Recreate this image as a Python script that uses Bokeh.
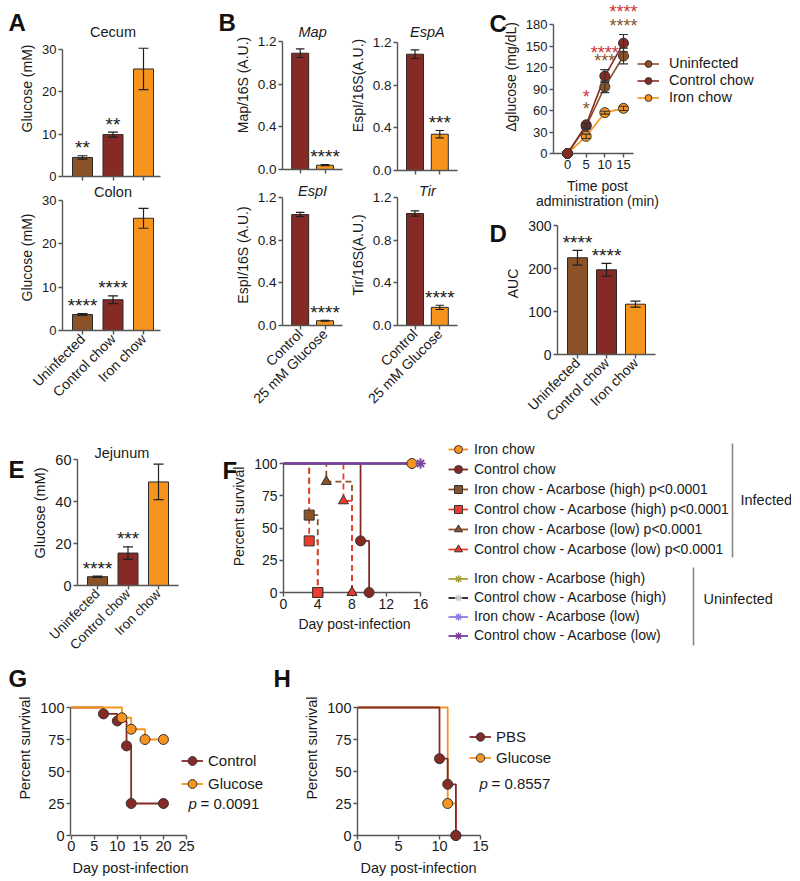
import math
from bokeh.plotting import figure
from bokeh.layouts import row, column
from bokeh.models import (Range1d, FixedTicker, Whisker, TeeHead, ColumnDataSource,
                          Legend, LegendItem, PrintfTickFormatter)
from bokeh.core.properties import value
from bokeh.embed import file_html
from bokeh.resources import INLINE

FONT = "Liberation Sans"
BROWN = "#8B5228"
DRED = "#862A25"
ORANGE = "#F7941D"
RED = "#EE3B2C"
STAR_RED = "#D0333A"
AX = "#555555"
TXT = "#1a1a1a"
NAN = float("nan")

# ---------------- data ----------------
groups = ["Uninfected", "Control chow", "Iron chow"]
group_colors = [BROWN, DRED, ORANGE]

cecum_glucose = [4.5, 9.9, 25.4]
cecum_err = [0.4, 0.6, 4.9]
cecum_stars = ["**", "**", ""]
colon_glucose = [3.7, 7.1, 25.9]
colon_err = [0.2, 0.9, 2.3]
colon_stars = ["****", "****", ""]

b_conditions = ["Control", "25 mM Glucose"]
b_colors = [DRED, ORANGE]
map_expr = [1.09, 0.04]
map_err = [0.04, 0.005]
map_stars = ["", "****"]
espa_expr = [1.09, 0.34]
espa_err = [0.04, 0.035]
espa_stars = ["", "***"]
espi_expr = [1.04, 0.045]
espi_err = [0.02, 0.004]
espi_stars = ["", "****"]
tir_expr = [1.05, 0.17]
tir_err = [0.025, 0.02]
tir_stars = ["", "****"]

c_time = [0, 5, 10, 15]
c_uninfected = [0, 38, 93, 136]
c_uninfected_err = [0, 3, 8, 11]
c_control = [0, 40, 108, 154]
c_control_err = [0, 3, 9, 12]
c_iron = [0, 24, 57, 63]
c_iron_err = [0, 3, 2, 3]
c_stars_control = ["", "*", "****", "****"]
c_stars_uninfected = ["", "*", "***", "****"]
c_star_pos_control = [0, 84, 146, 203]
c_star_pos_uninfected = [0, 68, 134, 183]

auc = [225, 197, 117]
auc_err = [17, 15, 7]
auc_stars = ["****", "****", ""]

jejunum_glucose = [4.2, 15.5, 49.5]
jejunum_err = [0.3, 3.0, 8.5]
jejunum_stars = ["****", "***", ""]

f_iron_days = [0, 15]
f_iron_surv = [100, 100]
f_control_days = [0, 9, 10]
f_control_surv = [100, 40, 0]
f_iron_high_days = [0, 3, 4]
f_iron_high_surv = [100, 60, 0]
f_control_high_days = [0, 3, 4]
f_control_high_surv = [100, 40, 0]
f_iron_low_days = [0, 5, 8]
f_iron_low_surv = [100, 86, 0]
f_control_low_days = [0, 7, 8]
f_control_low_surv = [100, 71, 0]
f_uninf_days = [0, 16]
f_uninf_surv = [100, 100]
f_infected_labels = ["Iron chow", "Control chow",
                     "Iron chow - Acarbose (high) p<0.0001",
                     "Control chow - Acarbose (high) p<0.0001",
                     "Iron chow - Acarbose (low) p<0.0001",
                     "Control chow - Acarbose (low) p<0.0001"]
f_uninfected_labels = ["Iron chow - Acarbose (high)", "Control chow - Acarbose (high)",
                       "Iron chow - Acarbose (low)", "Control chow - Acarbose (low)"]

g_control_days = [0, 7, 10, 12, 13, 20]
g_control_surv = [100, 95, 89.5, 70, 25, 25]
g_glucose_days = [0, 11, 13, 16, 20]
g_glucose_surv = [100, 92, 83, 75, 75]

h_pbs_days = [0, 10, 11, 12]
h_pbs_surv = [100, 60, 40, 0]
h_glucose_days = [0, 11, 12]
h_glucose_surv = [100, 25, 0]


# ---------------- helpers ----------------
def lin(f_lo, f_hi, va, pa, vb, pb):
    s = (pb - pa) / (vb - va)
    return Range1d(va + (f_lo - pa) / s, va + (f_hi - pa) / s)


def px2v(px, va, pa, vb, pb):
    return va + (px - pa) * (vb - va) / (pb - pa)


def make_fig(box, frame, xr, yr, axes=True):
    x0, y0, x1, y1 = box
    fx0, fy0, fx1, fy1 = frame
    kw = {}
    if not axes:
        kw = dict(x_axis_type=None, y_axis_type=None)
    p = figure(width=x1 - x0, height=y1 - y0, x_range=xr, y_range=yr,
               min_border_left=fx0 - x0, min_border_right=x1 - fx1,
               min_border_top=fy0 - y0, min_border_bottom=y1 - fy1,
               output_backend="svg", toolbar_location=None, tools="", **kw)
    p.grid.visible = False
    p.outline_line_color = None
    p.background_fill_color = "white"
    p.border_fill_color = "white"
    return p


def style_axes(p, tick_size, lab_size):
    for ax in p.axis:
        ax.axis_line_color = AX
        ax.axis_line_width = 1.4
        ax.major_tick_line_color = AX
        ax.major_tick_line_width = 1.4
        ax.major_tick_out = 4
        ax.major_tick_in = 0
        ax.minor_tick_line_color = None
        ax.major_label_text_font = FONT
        ax.major_label_text_font_size = tick_size
        ax.major_label_text_color = TXT
        ax.axis_label_text_font = FONT
        ax.axis_label_text_font_size = lab_size
        ax.axis_label_text_font_style = "normal"
        ax.axis_label_text_color = TXT
        ax.major_label_standoff = 2
        ax.axis_label_standoff = 4


LETTER_SHIFT = -10


def letter(p, frame, xmap, ymap, text, lx, base_y):
    ax = frame[0] + 1
    p.text(x=[px2v(ax, *xmap)], y=[px2v(base_y + LETTER_SHIFT, *ymap)], x_offset=lx - ax,
           text=[text], text_align="left", text_baseline="alphabetic", text_font=value(FONT),
           text_font_size="24px", text_font_style="bold", text_color="#111111", level="overlay")


def xlabel(p, frame, xmap, ymap, text, cx, cy, size="14.5px"):
    ay = frame[3] - 1
    p.text(x=[px2v(cx, *xmap)], y=[px2v(ay, *ymap)], y_offset=cy - ay, text=[text],
           text_align="center", text_baseline="middle", text_font=value(FONT),
           text_font_size=size, text_color=TXT, level="overlay")


def bar_panel(box, frame, c0, c1, ymap, cats, vals, errs, colors, stars, yticks, ylabel,
              title, title_px, title_x, bar_px, show_x, tick_size, lab_size,
              fmt=None, italic=False, let=None, cat_size="14px"):
    fx0, fy0, fx1, fy1 = frame
    xmap = (0, c0, 1, c1)
    xr = lin(fx0, fx1, *xmap)
    yr = lin(fy1, fy0, *ymap)
    p = make_fig(box, frame, xr, yr)
    idx = list(range(len(cats)))
    src = ColumnDataSource(dict(x=idx, top=vals,
                                upper=[v + e for v, e in zip(vals, errs)],
                                lower=[v - e for v, e in zip(vals, errs)],
                                color=colors, star=stars))
    p.vbar(x="x", top="top", width=bar_px / (c1 - c0), fill_color="color",
           line_color="#2a2a2a", line_width=1, source=src)
    wk = Whisker(base="x", upper="upper", lower="lower", source=src,
                 line_color="#1f1f1f", line_width=1.2, level="overlay")
    cap = bar_px * 0.5
    wk.upper_head = TeeHead(size=cap, line_color="#1f1f1f", line_width=1.2)
    wk.lower_head = TeeHead(size=cap, line_color="#1f1f1f", line_width=1.2)
    p.add_layout(wk)
    p.text(x="x", y="upper", text="star", source=src, text_align="center",
           text_baseline="middle", y_offset=-8, text_font=value(FONT),
           text_font_size="19px", text_color=TXT)
    if title:
        p.text(x=[title_x], y=[px2v(title_px, *ymap)], text=[title],
               text_align="center", text_baseline="middle", text_font=value(FONT),
               text_font_size="14.5px", text_font_style="italic" if italic else "normal",
               text_color=TXT)
    p.yaxis.ticker = FixedTicker(ticks=yticks)
    p.yaxis.bounds = (yticks[0], yticks[-1])
    p.yaxis.axis_label = ylabel
    if fmt:
        p.yaxis.formatter = PrintfTickFormatter(format=fmt)
    p.xaxis.ticker = FixedTicker(ticks=idx)
    p.xaxis.major_label_overrides = {i: c for i, c in enumerate(cats)}
    p.xaxis.major_label_orientation = math.pi / 4
    style_axes(p, tick_size, lab_size)
    if show_x:
        p.xaxis.major_label_text_font_size = cat_size
    else:
        p.xaxis.major_label_text_font_size = "1px"
        p.xaxis.major_label_text_color = None
        p.xaxis.major_label_standoff = 0
    if let:
        letter(p, frame, xmap, ymap, let[0], let[1], let[2])
    return p


def km(p, days, surv, color, marker, dash="solid", size=10, fill=None, mline="#333333"):
    ln = p.step(days, surv, mode="after", line_color=color, line_width=1.8, line_dash=dash)
    if marker == "asterisk":
        sc = p.scatter(days[1:], surv[1:], marker=marker, size=size, line_color=fill or color,
                       line_width=1.5, level="overlay")
    else:
        sc = p.scatter(days[1:], surv[1:], marker=marker, size=size, fill_color=fill or color,
                       line_color=mline, line_width=1, level="overlay")
    return ln, sc


def style_legend(leg, size, row_h, gw=22, standoff=6):
    leg.border_line_color = None
    leg.background_fill_alpha = 0
    leg.label_text_font = FONT
    leg.label_text_font_size = size
    leg.label_text_color = TXT
    leg.glyph_width = gw
    leg.glyph_height = row_h
    leg.label_height = row_h
    leg.spacing = 0
    leg.padding = 0
    leg.margin = 0
    leg.label_standoff = standoff


def pvalue(p, xmap, ymap, px, py, txt):
    for t, dx, st in [("p", 0, "italic"), (txt, 12, "normal")]:
        p.text(x=[px2v(px, *xmap)], y=[px2v(py, *ymap)], x_offset=dx, text=[t],
               text_font_style=st, text_baseline="middle", text_font=value(FONT),
               text_font_size="15px", text_color=TXT)


ROW2_BOTTOM = 660
ROW3_BOTTOM = 880

# ---------------- panel A ----------------
pa1 = bar_panel((0, 0, 200, 184), (62, 0, 160, 176), 82, 112.5, (0, 176, 30, 49), groups,
                cecum_glucose, cecum_err, group_colors, cecum_stars, [0, 10, 20, 30],
                "Glucose (mM)", "Cecum", 31, 1, 20, False, "13px", "14px", let=("A", 8, 32))
pa2 = bar_panel((0, 184, 200, 440), (62, 184, 160, 330), 82, 112.5, (0, 330, 30, 200), groups,
                colon_glucose, colon_err, group_colors, colon_stars, [0, 10, 20, 30],
                "Glucose (mM)", "Colon", 191, 1, 20, True, "13px", "14px")

# ---------------- panel B ----------------
pb1 = bar_panel((200, 0, 345, 184), (282, 0, 342, 169), 299.7, 324.5, (0, 169, 1.2, 41),
                b_conditions, map_expr, map_err, b_colors, map_stars, [0, 0.4, 0.8, 1.2],
                "Map/16S (A.U.)", "Map", 31, 0.5, 17, False, "13.5px", "14px",
                fmt="%.1f", italic=True, let=("B", 218, 32))
pb2 = bar_panel((345, 0, 490, 184), (397, 0, 457, 170), 414.5, 439.3, (0, 170, 1.2, 42),
                b_conditions, espa_expr, espa_err, b_colors, espa_stars, [0, 0.4, 0.8, 1.2],
                "EspI/16S(A.U.)", "EspA", 31, 0.5, 17, False, "13.5px", "14px",
                fmt="%.1f", italic=True)
pb3 = bar_panel((200, 184, 345, 440), (282, 184, 342, 325), 299.7, 324.5, (0, 325, 1.2, 197),
                b_conditions, espi_expr, espi_err, b_colors, espi_stars, [0, 0.4, 0.8, 1.2],
                "EspI/16S (A.U.)", "EspI", 190, 0.5, 17, True, "13.5px", "14px",
                fmt="%.1f", italic=True)
pb4 = bar_panel((345, 184, 490, 440), (397, 184, 457, 325), 414.5, 439.3, (0, 325, 1.2, 197),
                b_conditions, tir_expr, tir_err, b_colors, tir_stars, [0, 0.4, 0.8, 1.2],
                "Tir/16S(A.U.)", "Tir", 190, 0.5, 17, True, "13.5px", "14px",
                fmt="%.1f", italic=True)

# ---------------- panel C ----------------
fc = (553, 0, 791, 153)
cx = (0, 567, 15, 623)
cy = (0, 153, 180, 24)
pc = make_fig((490, 0, 791, 212), fc, lin(553, 791, *cx), lin(153, 0, *cy))
c_items = {}
for name, vals, errs, col in [("Iron chow", c_iron, c_iron_err, ORANGE),
                              ("Uninfected", c_uninfected, c_uninfected_err, BROWN),
                              ("Control chow", c_control, c_control_err, DRED)]:
    ln = pc.line(c_time, vals, line_color=col, line_width=1.6)
    ws = ColumnDataSource(dict(x=[t for t, e in zip(c_time, errs) if e > 0],
                               upper=[v + e for v, e in zip(vals, errs) if e > 0],
                               lower=[v - e for v, e in zip(vals, errs) if e > 0]))
    wk = Whisker(base="x", upper="upper", lower="lower", source=ws, line_color="#333333",
                 line_width=1.1, level="overlay")
    wk.upper_head = TeeHead(size=9, line_color="#333333", line_width=1.1)
    wk.lower_head = TeeHead(size=9, line_color="#333333", line_width=1.1)
    pc.add_layout(wk)
    sc = pc.scatter(c_time, vals, marker="circle", size=10, fill_color=col,
                    line_color="#333333", line_width=1, level="overlay")
    c_items[name] = [ln, sc]
for stars, pos, col in [(c_stars_control, c_star_pos_control, STAR_RED),
                        (c_stars_uninfected, c_star_pos_uninfected, BROWN)]:
    s = ColumnDataSource(dict(x=[t for t, st in zip(c_time, stars) if st],
                              y=[v for v, st in zip(pos, stars) if st],
                              t=[st for st in stars if st]))
    pc.text(x="x", y="y", text="t", source=s, text_align="center", text_baseline="middle",
            y_offset=4, text_font=value(FONT), text_font_size="18px", text_color=col)
pc.xaxis.ticker = FixedTicker(ticks=c_time)
pc.xaxis.bounds = (pc.x_range.start, 17.7)
pc.yaxis.ticker = FixedTicker(ticks=[0, 30, 60, 90, 120, 150, 180])
pc.yaxis.bounds = (0, 180)
pc.yaxis.axis_label = "\u0394glucose (mg/dL)"
style_axes(pc, "13px", "14px")
xlabel(pc, fc, cx, cy, "Time post", 597, 185.5, "14px")
xlabel(pc, fc, cx, cy, "administration (min)", 597, 200, "14px")
legc = Legend(items=[LegendItem(label=n, renderers=c_items[n])
                     for n in ["Uninfected", "Control chow", "Iron chow"]],
              location=(84, 47.5))
style_legend(legc, "14.5px", 17, gw=22, standoff=10)
pc.add_layout(legc)
letter(pc, fc, cx, cy, "C", 489, 33)

# ---------------- panel D ----------------
pd_ = bar_panel((490, 212, 791, 440), (557, 212, 655, 354), 577, 606, (0, 354, 300, 225),
                groups, auc, auc_err, group_colors, auc_stars, [0, 100, 200, 300], "AUC",
                None, 0, 0, 20, True, "14px", "14px", let=("D", 489, 243))

# ---------------- panel E ----------------
pe = bar_panel((0, 440, 220, ROW2_BOTTOM), (77, 440, 178, 589), 97, 127.5, (0, 589, 60, 460),
               groups, jejunum_glucose, jejunum_err, group_colors, jejunum_stars,
               [0, 20, 40, 60], "Glucose (mM)", "Jejunum", 453, 0.8, 20, True,
               "14.5px", "14.5px", let=("E", 8, 480), cat_size="13.5px")

# ---------------- panel F ----------------
ff = (283, 440, 425, 592)
fx = (0, 283, 16, 420)
fy = (0, 592, 100, 463)
pf = make_fig((220, 440, 440, ROW2_BOTTOM), ff, lin(283, 425, *fx), lin(592, 440, *fy))
km(pf, f_iron_days, f_iron_surv, ORANGE, "circle")
km(pf, f_control_days, f_control_surv, DRED, "circle")
km(pf, f_iron_high_days, f_iron_high_surv, BROWN, "square", dash="6 4")
km(pf, f_control_high_days, f_control_high_surv, RED, "square", dash="6 4")
km(pf, f_iron_low_days, f_iron_low_surv, BROWN, "triangle", dash="6 4")
km(pf, f_control_low_days, f_control_low_surv, RED, "triangle", dash="6 4")
uninf_styles = [("#A5A23C", "#A5A23C"), ("#1a1a1a", "#cfcfcf"),
                ("#8A7FE0", "#8A7FE0"), ("#7B3F9E", "#7B3F9E")]
for lc, mc in uninf_styles:
    km(pf, f_uninf_days, f_uninf_surv, lc, "asterisk", fill=mc)
pf.xaxis.ticker = FixedTicker(ticks=[0, 4, 8, 12, 16])
pf.xaxis.bounds = (0, 16)
pf.xaxis.axis_label = "Day post-infection"
pf.yaxis.ticker = FixedTicker(ticks=[0, 25, 50, 75, 100])
pf.yaxis.bounds = (0, 100)
pf.yaxis.axis_label = "Percent survival"
style_axes(pf, "14px", "14px")
letter(pf, ff, fx, fy, "F", 222, 480)

# F legend area (pixel-like coordinates)
fl = (440, 440, 791, ROW2_BOTTOM)
pl = make_fig(fl, fl, Range1d(440, 791), Range1d(ROW2_BOTTOM, 440), axes=False)
inf_styles = [(ORANGE, "circle"), (DRED, "circle"), (BROWN, "square"), (RED, "square"),
              (BROWN, "triangle"), (RED, "triangle")]
items1 = []
for lab, (col, mk) in zip(f_infected_labels, inf_styles):
    ln = pl.line(x=[NAN, NAN], y=[NAN, NAN], line_color=col, line_width=1.8)
    sc = pl.scatter(x=[NAN], y=[NAN], marker=mk, size=8, fill_color=col,
                    line_color="#333333", line_width=1)
    items1.append(LegendItem(label=lab, renderers=[ln, sc]))
leg1 = Legend(items=items1, location=(8, ROW2_BOTTOM - 559))
style_legend(leg1, "14px", 20, gw=20, standoff=6)
pl.add_layout(leg1)
items2 = []
for lab, (lc, mc) in zip(f_uninfected_labels, uninf_styles):
    ln = pl.line(x=[NAN, NAN], y=[NAN, NAN], line_color=lc, line_width=1.8)
    sc = pl.scatter(x=[NAN], y=[NAN], marker="asterisk", size=8, line_color=mc, line_width=1.3)
    items2.append(LegendItem(label=lab, renderers=[ln, sc]))
leg2 = Legend(items=items2, location=(8, ROW2_BOTTOM - 644.5))
style_legend(leg2, "14px", 19, gw=20, standoff=6)
pl.add_layout(leg2)
pl.segment(x0=[732, 693], y0=[443, 567], x1=[732, 693], y1=[557, 645],
           line_color="#888888", line_width=1.6)
pl.text(x=[740, 703], y=[499, 598], text=["Infected", "Uninfected"], text_baseline="middle",
        text_font=value(FONT), text_font_size="14.5px", text_color=TXT)

# ---------------- panel G ----------------
fg = (70, ROW2_BOTTOM, 270, 835)
gx = (0, 70.7, 25, 186)
gy = (0, 835, 100, 707)
pg = make_fig((0, ROW2_BOTTOM, 270, ROW3_BOTTOM), fg, lin(70, 270, *gx),
              lin(835, ROW2_BOTTOM, *gy))
g_ctrl = km(pg, g_control_days, g_control_surv, DRED, "circle")
g_glu = km(pg, g_glucose_days, g_glucose_surv, ORANGE, "circle")
pg.xaxis.ticker = FixedTicker(ticks=[0, 5, 10, 15, 20, 25])
pg.xaxis.bounds = (0, 25)
pg.yaxis.ticker = FixedTicker(ticks=[0, 25, 50, 75, 100])
pg.yaxis.bounds = (0, 100)
pg.yaxis.axis_label = "Percent survival"
style_axes(pg, "14.5px", "14.5px")
pg.xaxis.major_label_standoff = 1
xlabel(pg, fg, gx, gy, "Day post-infection", 130, 867)
legg = Legend(items=[LegendItem(label="Control", renderers=list(g_ctrl)),
                     LegendItem(label="Glucose", renderers=list(g_glu))],
              location=(111, 40.5))
style_legend(legg, "15px", 23, gw=22, standoff=5)
pg.add_layout(legg)
pvalue(pg, gx, gy, 188, 803, "= 0.0091")
letter(pg, fg, gx, gy, "G", 8, 688)

# ---------------- panel H ----------------
fh = (357, ROW2_BOTTOM, 791, 835)
hx = (0, 357, 15, 480)
hy = (0, 835, 100, 707)
ph = make_fig((270, ROW2_BOTTOM, 791, ROW3_BOTTOM), fh, lin(357, 791, *hx),
              lin(835, ROW2_BOTTOM, *hy))
h_glu = km(ph, h_glucose_days, h_glucose_surv, ORANGE, "circle")
h_pbs = km(ph, h_pbs_days, h_pbs_surv, DRED, "circle")
ph.xaxis.ticker = FixedTicker(ticks=[0, 5, 10, 15])
ph.xaxis.bounds = (0, 15)
ph.yaxis.ticker = FixedTicker(ticks=[0, 25, 50, 75, 100])
ph.yaxis.bounds = (0, 100)
ph.yaxis.axis_label = "Percent survival"
style_axes(ph, "14.5px", "14.5px")
ph.xaxis.major_label_standoff = 1
xlabel(ph, fh, hx, hy, "Day post-infection", 418, 867)
legh = Legend(items=[LegendItem(label="PBS", renderers=list(h_pbs)),
                     LegendItem(label="Glucose", renderers=list(h_glu))],
              location=(112, 67.5))
style_legend(legh, "15px", 21, gw=22, standoff=5)
ph.add_layout(legh)
pvalue(ph, hx, hy, 479, 783, "= 0.8557")
letter(ph, fh, hx, hy, "H", 273, 688)

# ---------------- layout (each plot wrapped so frames are not aligned) ----------------
W = lambda p: column(p, spacing=0)
col_a = column(W(pa1), W(pa2), spacing=0)
col_b = row(column(W(pb1), W(pb3), spacing=0), column(W(pb2), W(pb4), spacing=0), spacing=0)
col_cd = column(W(pc), W(pd_), spacing=0)
row1 = row(col_a, col_b, col_cd, spacing=0)
row2 = row(W(pe), W(pf), W(pl), spacing=0)
row3 = row(W(pg), W(ph), spacing=0)
root = column(row1, row2, row3, spacing=0)

open("out.html", "w").write(file_html(root, INLINE))
